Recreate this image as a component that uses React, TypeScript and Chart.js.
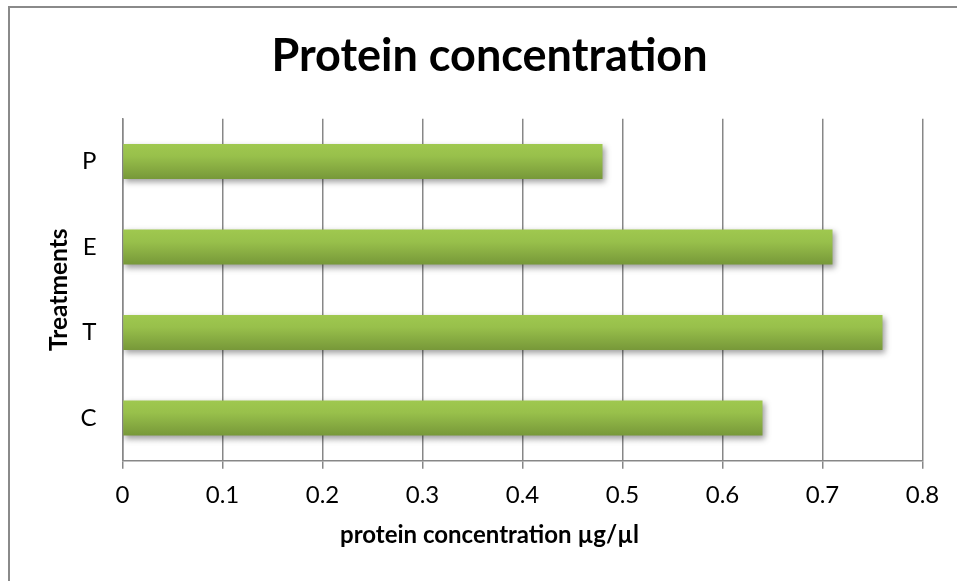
import React, { useEffect, useRef } from "react";
import { Chart, registerables } from "chart.js";

Chart.register(...registerables);

const categories = ["C", "T", "E", "P"];
const proteinValues = [0.64, 0.76, 0.71, 0.48];
const xTickLabels = ["0", "0.1", "0.2", "0.3", "0.4", "0.5", "0.6", "0.7", "0.8"];
const chartTitle = "Protein concentration";
const xAxisTitle = "protein concentration µg/µl";
const yAxisTitle = "Treatments";

const FONT = "Lato, 'Open Sans', sans-serif";
const GRID = "#878787";
const BAR_PCT = 0.41;

const frame = {
  id: "frame",
  beforeDraw(chart: any) {
    const ctx = chart.ctx;
    ctx.save();
    ctx.fillStyle = "#ffffff";
    ctx.fillRect(0, 0, chart.width, chart.height);
    ctx.strokeStyle = "#8a8a8a";
    ctx.lineWidth = 2;
    ctx.strokeRect(9, 7, 3000, 3000);
    ctx.restore();
  },
};

const barShadow = {
  id: "barShadow",
  beforeDatasetsDraw(chart: any) {
    const ctx = chart.ctx;
    ctx.save();
    ctx.shadowColor = "rgba(0,0,0,0.38)";
    ctx.shadowBlur = 6;
    ctx.shadowOffsetX = 2;
    ctx.shadowOffsetY = 3;
  },
  afterDatasetsDraw(chart: any) {
    chart.ctx.restore();
  },
};

export default function App() {
  const ref = useRef<HTMLCanvasElement | null>(null);

  useEffect(() => {
    if (!ref.current) return;
    const chart = new Chart(ref.current, {
      type: "bar",
      data: {
        labels: categories,
        datasets: [
          {
            data: proteinValues,
            backgroundColor: (c: any) => {
              const ch = c.chart;
              const ys = ch.scales && ch.scales.y;
              if (!ys || !ch.chartArea || c.dataIndex === undefined) return "#8fb545";
              const cy = ys.getPixelForValue(c.dataIndex);
              const half = (ch.chartArea.height / categories.length) * BAR_PCT / 2;
              const g = ch.ctx.createLinearGradient(0, cy - half, 0, cy + half);
              g.addColorStop(0, "#9fc84f");
              g.addColorStop(0.35, "#98c04b");
              g.addColorStop(1, "#779839");
              return g;
            },
            borderWidth: 0,
            categoryPercentage: 1,
            barPercentage: BAR_PCT,
          },
        ],
      },
      options: {
        indexAxis: "y",
        animation: false,
        responsive: false,
        maintainAspectRatio: false,
        layout: { padding: { left: 0, right: 0, top: 0, bottom: 0 } },
        plugins: {
          legend: { display: false },
          tooltip: { enabled: false },
          title: {
            display: true,
            text: chartTitle,
            color: "#000",
            font: { family: FONT, size: 45, weight: "bold", lineHeight: 1.2 },
            padding: { top: 29, bottom: 35.75 },
          },
          subtitle: {
            display: true,
            position: "bottom",
            text: xAxisTitle,
            color: "#000",
            font: { family: FONT, size: 24, weight: "bold", lineHeight: 1.2 },
            padding: { top: 0, bottom: 31.6 },
          },
        },
        scales: {
          x: {
            type: "linear",
            position: "bottom",
            min: 0,
            max: 0.8,
            ticks: {
              stepSize: 0.1,
              color: "#000",
              padding: 11.85,
              font: { family: FONT, size: 24 },
              callback: (v: any, i: number) => xTickLabels[i] ?? String(v),
            },
            grid: { color: GRID, lineWidth: 1.5, tickLength: 8, drawTicks: true },
            border: { display: true, color: GRID, width: 1.5 },
            afterFit: (s: any) => {
              s.height = 59.85;
            },
          },
          y: {
            type: "category",
            position: "left",
            reverse: true,
            offset: true,
            ticks: {
              color: "#000",
              padding: 26,
              font: { family: FONT, size: 24 },
            },
            grid: { display: false, drawTicks: false },
            border: { display: true, color: GRID, width: 1.5 },
            title: {
              display: true,
              text: yAxisTitle,
              color: "#000",
              font: { family: FONT, size: 24.5, weight: "bold", lineHeight: 1.2 },
              padding: { top: 44, bottom: 0 },
            },
            afterFit: (s: any) => {
              s.width = 122.5;
            },
          },
          spacer: {
            type: "linear",
            position: "right",
            display: true,
            ticks: { display: false },
            grid: { display: false, drawTicks: false },
            border: { display: false },
            afterFit: (s: any) => {
              s.width = 56.5;
            },
          },
        },
      },
      plugins: [frame, barShadow],
    } as any);
    return () => chart.destroy();
  }, []);

  return (
    <div
      style={{
        position: "fixed",
        left: 0,
        top: 0,
        width: 957,
        height: 581,
        overflow: "hidden",
        background: "#fff",
      }}
    >
      <canvas ref={ref} width={979} height={581} style={{ display: "block" }} />
    </div>
  );
}
